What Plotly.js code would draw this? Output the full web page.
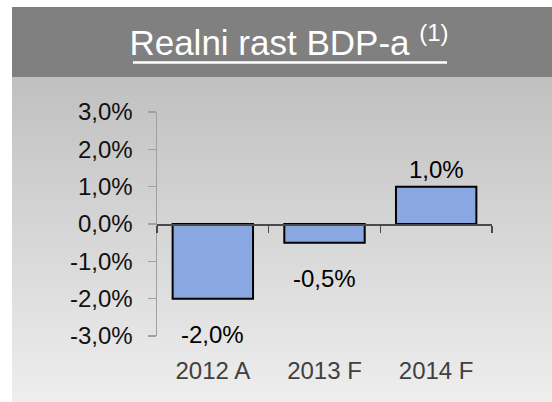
<!DOCTYPE html>
<html>
<head>
<meta charset="utf-8">
<script src="https://cdn.plot.ly/plotly-3.0.1.min.js"></script>
<style>
  html, body { margin: 0; padding: 0; background: #ffffff; }
  #chart { width: 552px; height: 402px; }
</style>
</head>
<body>
<div id="chart"></div>
<script>
// Data
const categories = ['2012 A', '2013 F', '2014 F'];
const gdpGrowth = [-2.0, -0.5, 1.0];           // real GDP growth, %
const yTickValues = [-3, -2, -1, 0, 1, 2, 3];
const titleText = 'Realni rast BDP-a';
const titleNote = '(1)';

function fmtPct(v) {
  return v.toFixed(1).replace('.', ',') + '%';
}

const FONT = 'Liberation Sans, Arial, sans-serif';

// geometry helpers (plot area: 157..492 px horizontally, 112..336 px vertically)
const W = 552, H = 402;
const L = 157, R = 492, T = 112, B = 336;
const px2x = p => (p - L) / (R - L);
const px2y = p => (B - p) / (B - T);

const gradSvg = '<svg xmlns="http://www.w3.org/2000/svg" width="100" height="100" preserveAspectRatio="none">' +
  '<defs><linearGradient id="g" x1="0" y1="0" x2="0" y2="1">' +
  '<stop offset="0" stop-color="#c0c0c0"/><stop offset="1" stop-color="#eeeeee"/>' +
  '</linearGradient></defs><rect width="100" height="100" fill="url(#g)"/></svg>';

const traces = [
  {
    type: 'bar',
    x: categories,
    y: gdpGrowth,
    marker: { color: '#89a7e0', line: { color: '#000000', width: 2 } },
    hoverinfo: 'skip',
    showlegend: false
  },
  {
    type: 'scatter',
    mode: 'none',
    x: categories,
    y: gdpGrowth,
    xaxis: 'x2',
    hoverinfo: 'skip',
    showlegend: false
  }
];

const annotations = categories.map((c, i) => ({
  x: c,
  y: gdpGrowth[i],
  xref: 'x',
  yref: 'y',
  text: fmtPct(gdpGrowth[i]),
  showarrow: false,
  xanchor: 'center',
  yanchor: gdpGrowth[i] >= 0 ? 'bottom' : 'top',
  yshift: gdpGrowth[i] >= 0 ? 2 : -20,
  font: { family: FONT, size: 24, color: '#000000' }
}));

const layout = {
  width: W,
  height: H,
  margin: { l: L, r: W - R, t: T, b: H - B, pad: 0 },
  paper_bgcolor: '#ffffff',
  plot_bgcolor: 'rgba(0,0,0,0)',
  separators: ', ',
  showlegend: false,
  bargap: 0.28,
  title: {
    text: titleText + ' <sup><span style="font-size:24px">' + titleNote + '</span></sup>',
    font: { family: FONT, size: 35, color: '#ffffff' },
    xref: 'container', yref: 'container',
    x: 289 / W, y: 1 - 43 / H,
    xanchor: 'center', yanchor: 'middle'
  },
  xaxis: {
    type: 'category',
    range: [-0.5, 2.5],
    showline: false,
    showgrid: false,
    zeroline: false,
    ticks: '',
    ticklabelstandoff: 18,
    tickfont: { family: FONT, size: 24, color: '#404040' },
    fixedrange: true
  },
  xaxis2: {
    type: 'category',
    range: [-0.5, 2.5],
    overlaying: 'x',
    anchor: 'free',
    position: 0.5,
    side: 'bottom',
    showline: true,
    linecolor: '#4a4a4a',
    linewidth: 1.5,
    ticks: 'outside',
    tickson: 'boundaries',
    ticklen: 7,
    tickwidth: 1.5,
    tickcolor: '#4a4a4a',
    showticklabels: false,
    showgrid: false,
    zeroline: false,
    fixedrange: true
  },
  yaxis: {
    range: [-3, 3],
    tickvals: yTickValues,
    ticktext: yTickValues.map(fmtPct),
    showline: true,
    linecolor: '#a0a0a0',
    linewidth: 1.5,
    ticks: 'outside',
    ticklen: 8,
    tickwidth: 1.5,
    tickcolor: '#a0a0a0',
    showgrid: false,
    zeroline: false,
    ticklabelstandoff: 10,
    tickfont: { family: FONT, size: 24, color: '#111111' },
    fixedrange: true
  },
  shapes: [
    {
      type: 'rect', xref: 'paper', yref: 'paper', layer: 'below',
      x0: px2x(12), x1: px2x(552), y0: px2y(77), y1: px2y(7),
      fillcolor: '#808080', line: { width: 0 }
    },
    {
      // title underline
      type: 'line', xref: 'paper', yref: 'paper', layer: 'above',
      x0: px2x(133), x1: px2x(447), y0: px2y(62.5), y1: px2y(62.5),
      line: { color: '#ffffff', width: 2.5 }
    }
  ],
  images: [
    {
      source: 'data:image/svg+xml;charset=utf-8,' + encodeURIComponent(gradSvg),
      xref: 'paper', yref: 'paper',
      x: px2x(12), y: px2y(77),
      sizex: px2x(552) - px2x(12), sizey: px2y(77) - px2y(402),
      xanchor: 'left', yanchor: 'top',
      sizing: 'stretch', layer: 'below'
    }
  ],
  annotations: annotations
};

Plotly.newPlot('chart', traces, layout, { displayModeBar: false, staticPlot: true });
</script>
</body>
</html>
